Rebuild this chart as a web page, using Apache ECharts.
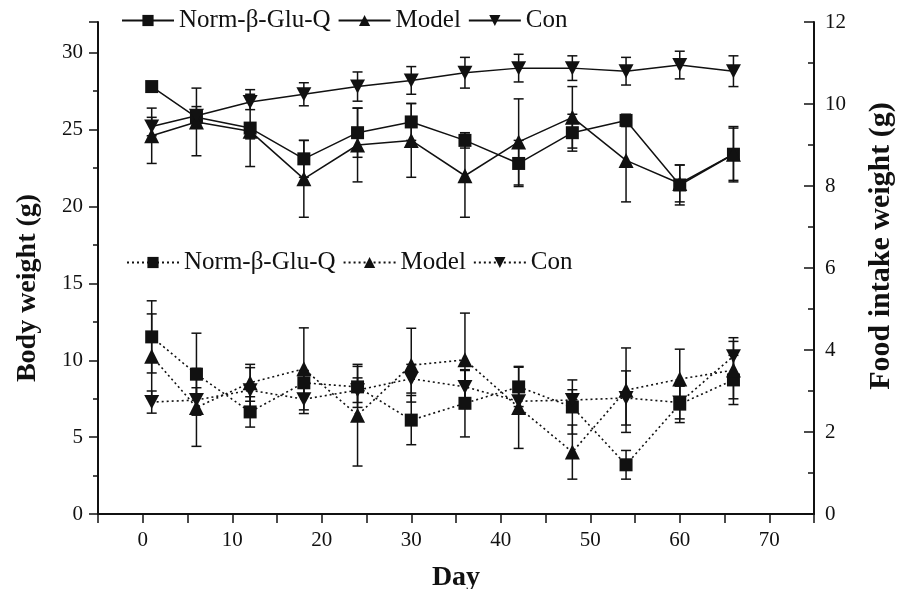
<!DOCTYPE html>
<html>
<head>
<meta charset="utf-8">
<script src="https://cdn.jsdelivr.net/npm/echarts@6/dist/echarts.min.js"></script>
<style>
  html, body { margin: 0; padding: 0; background: #fff; }
  #chart { width: 907px; height: 589px; }
</style>
</head>
<body>
<div id="chart"></div>
<script>
// 天数
const days = [1, 6, 12, 18, 24, 30, 36, 42, 48, 54, 60, 66]

// 体重 (左轴)
const bwNorm = [27.8, 25.8, 25.1, 23.1, 24.8, 25.5, 24.3, 22.8, 24.8, 25.6, 21.4, 23.4]
const bwNormErr = [0, 0.4, 2.5, 1.2, 1.6, 1.2, 0.5, 1.5, 1.2, 0.4, 1.3, 1.8]
const bwModel = [24.6, 25.5, 24.9, 21.8, 24.0, 24.3, 22.0, 24.2, 25.8, 23.0, 21.5, 23.4]
const bwModelErr = [1.8, 2.2, 0.5, 2.5, 2.4, 2.4, 2.7, 2.8, 2.0, 2.7, 1.2, 1.7]
const bwCon = [25.2, 25.9, 26.8, 27.3, 27.8, 28.2, 28.7, 29.0, 29.0, 28.8, 29.2, 28.8]
const bwConErr = [0.6, 0.6, 0.5, 0.75, 0.95, 0.9, 1.0, 0.9, 0.8, 0.9, 0.9, 1.0]

// 摄食量 (右轴)
const fiNorm = [4.32, 3.41, 2.49, 3.2, 3.1, 2.29, 2.7, 3.1, 2.61, 1.2, 2.68, 3.27]
const fiNormErr = [0.88, 1.0, 0.37, 0.3, 0.5, 0.6, 0.82, 0.48, 0.66, 0.35, 0.45, 0.6]
const fiModel = [3.85, 2.6, 3.2, 3.54, 2.41, 3.63, 3.76, 2.6, 1.51, 3.02, 3.29, 3.51]
const fiModelErr = [1.03, 0.95, 0.45, 1.0, 1.24, 0.9, 1.14, 1.0, 0.66, 1.03, 0.73, 0.7]
const fiCon = [2.73, 2.78, 3.02, 2.8, 3.02, 3.3, 3.1, 2.75, 2.78, 2.83, 2.72, 3.85]
const fiConErr = [0.27, 0.3, 0.55, 0.35, 0.3, 0.35, 0.4, 0.3, 0.25, 0.66, 0.4, 0.45]

const names = ['Norm-β-Glu-Q', 'Model', 'Con']
const names2 = names.map(n => n + ' ')   // 下方图例用 (尾部空格区分)

const FONT = '"Liberation Serif", "DejaVu Serif", serif'
const DOWN_TRI = 'path://M0,0 L10,0 L5,9 Z'

function pairs(vals) {
  return days.map((d, i) => [d, vals[i]])
}

function errData(vals, errs) {
  return days.map((d, i) => [d, vals[i] - errs[i], vals[i] + errs[i]])
}

function renderErr(params, api) {
  const x = api.value(0)
  const lo = api.value(1)
  const hi = api.value(2)
  if (hi - lo <= 0) return null
  const top = api.coord([x, hi])
  const bot = api.coord([x, lo])
  const w = 5
  const style = { stroke: '#111', lineWidth: 1.5, fill: null }
  return {
    type: 'group',
    children: [
      { type: 'line', shape: { x1: top[0], y1: top[1], x2: bot[0], y2: bot[1] }, style },
      { type: 'line', shape: { x1: top[0] - w, y1: top[1], x2: top[0] + w, y2: top[1] }, style },
      { type: 'line', shape: { x1: bot[0] - w, y1: bot[1], x2: bot[0] + w, y2: bot[1] }, style }
    ]
  }
}

function lineSeries(name, vals, yIdx, symbol, size, dotted) {
  return {
    name,
    type: 'line',
    yAxisIndex: yIdx,
    data: pairs(vals),
    symbol,
    symbolSize: size,
    showAllSymbol: true,
    itemStyle: { color: '#111' },
    lineStyle: { color: '#111', width: dotted ? 1.6 : 1.5, type: dotted ? [2, 3] : 'solid' },
    z: 3
  }
}

function errSeries(vals, errs, yIdx) {
  return {
    type: 'custom',
    yAxisIndex: yIdx,
    renderItem: renderErr,
    data: errData(vals, errs),
    encode: { x: 0, y: [1, 2] },
    z: 2,
    silent: true
  }
}

const chart = echarts.init(document.getElementById('chart'))

const legendBase = {
  orient: 'horizontal',
  itemWidth: 52,
  itemHeight: 14,
  itemGap: 7,
  formatter: n => n.trim(),
  textStyle: { fontFamily: FONT, fontSize: 25, color: '#111' }
}

const tickStyle = { color: '#111', width: 1.5 }

chart.setOption({
  backgroundColor: '#fff',
  animation: false,
  grid: {
    left: 98, right: 93, top: 22, bottom: 75,
    containLabel: false,
    outerBoundsMode: 'none'
  },
  legend: [
    Object.assign({}, legendBase, { data: names, left: 116, top: 3 }),
    Object.assign({}, legendBase, { data: names2, left: 121, top: 245 })
  ],
  xAxis: {
    type: 'value',
    min: -5,
    max: 75,
    interval: 5,
    name: 'Day',
    nameLocation: 'middle',
    nameGap: 50,
    nameTextStyle: { fontFamily: FONT, fontSize: 28, fontWeight: 'bold', color: '#111' },
    axisLine: { onZero: false, lineStyle: { color: '#111', width: 2 } },
    axisTick: { length: 9, lineStyle: tickStyle },
    axisLabel: {
      margin: 16,
      fontFamily: FONT, fontSize: 21, color: '#111',
      formatter: v => (v % 10 === 0 && v >= 0 && v <= 70) ? String(v) : ''
    },
    splitLine: { show: false }
  },
  yAxis: [
    {
      type: 'value',
      position: 'left',
      min: 0,
      max: 32,
      interval: 5,
      name: 'Body weight (g)',
      nameLocation: 'middle',
      nameGap: 56,
      nameTextStyle: {
        fontFamily: FONT, fontSize: 28, fontWeight: 'bold', color: '#111',
        padding: [0, 40, 0, 0]
      },
      axisLine: { show: true, onZero: false, lineStyle: { color: '#111', width: 2 } },
      axisTick: { show: true, length: 9, lineStyle: tickStyle },
      minorTick: { show: true, splitNumber: 2, length: 5, lineStyle: tickStyle },
      axisLabel: {
        margin: 15,
        fontFamily: FONT, fontSize: 21, color: '#111',
        formatter: v => (v % 5 === 0) ? String(v) : ''
      },
      splitLine: { show: false }
    },
    {
      type: 'value',
      position: 'right',
      min: 0,
      max: 12,
      interval: 2,
      name: 'Food intake weight (g)',
      nameLocation: 'middle',
      nameGap: 52,
      nameRotate: 90,
      nameTextStyle: {
        fontFamily: FONT, fontSize: 30, fontWeight: 'bold', color: '#111',
        padding: [0, 0, 0, 44]
      },
      axisLine: { show: true, onZero: false, lineStyle: { color: '#111', width: 2 } },
      axisTick: { show: true, inside: true, length: 10, lineStyle: tickStyle },
      minorTick: { show: true, splitNumber: 2, length: 6, lineStyle: tickStyle },
      axisLabel: { margin: 11, fontFamily: FONT, fontSize: 21, color: '#111' },
      splitLine: { show: false }
    }
  ],
  series: [
    errSeries(bwNorm, bwNormErr, 0),
    errSeries(bwModel, bwModelErr, 0),
    errSeries(bwCon, bwConErr, 0),
    errSeries(fiNorm, fiNormErr, 1),
    errSeries(fiModel, fiModelErr, 1),
    errSeries(fiCon, fiConErr, 1),
    lineSeries(names[0], bwNorm, 0, 'rect', 13, false),
    lineSeries(names[1], bwModel, 0, 'triangle', 15, false),
    lineSeries(names[2], bwCon, 0, DOWN_TRI, [15, 14], false),
    lineSeries(names2[0], fiNorm, 1, 'rect', 13, true),
    lineSeries(names2[1], fiModel, 1, 'triangle', 15, true),
    lineSeries(names2[2], fiCon, 1, DOWN_TRI, [15, 14], true)
  ]
})
</script>
</body>
</html>
